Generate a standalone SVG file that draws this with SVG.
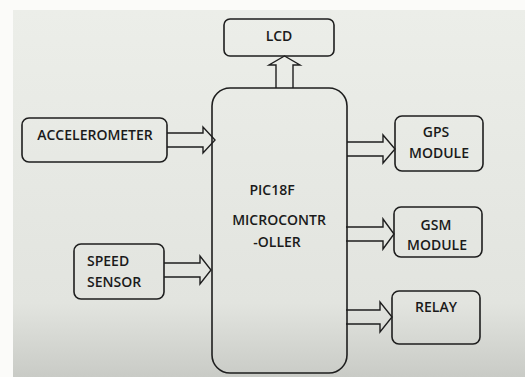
<svg xmlns="http://www.w3.org/2000/svg" width="525" height="377" viewBox="0 0 525 377">
<defs>
<linearGradient id="bg" x1="0" y1="0" x2="0" y2="1">
<stop offset="0" stop-color="#eceee9"/>
<stop offset="0.8" stop-color="#e2e4df"/>
<stop offset="1" stop-color="#c9cbc6"/>
</linearGradient>
<style>
.box{fill:none;stroke:#1e1e1e;stroke-width:1.6}
.arr{fill:none;stroke:#1e1e1e;stroke-width:1.4;stroke-linejoin:miter}
text{font-family:"Open Sans","Liberation Sans",sans-serif;font-weight:600;font-size:14px;fill:#1a1a1a}
.c{text-anchor:middle}
</style>
</defs>
<rect width="525" height="377" fill="#fbfbf9"/>
<rect x="13" y="10" width="512" height="367" fill="url(#bg)"/>
<g id="connectors">
<path class="arr" d="M276,88 V65 H269 L284.5,56 L300,65 H293 V88"/>
<path class="arr" d="M167,133 H203 V127 L215,140 L203,153 V147 H167"/>
<path class="arr" d="M164,263 H200 V256 L211,270 L200,284 V277 H164"/>
<path class="arr" d="M347,142 H383 V135 L395,149 L383,163 V156 H347"/>
<path class="arr" d="M346,227 H383 V219 L394,234 L383,249 V241 H346"/>
<path class="arr" d="M346,310 H380 V302 L392,317 L380,332 V324 H346"/>
</g>
<g id="lcd">
<rect class="box" x="224" y="19" width="110" height="37" rx="6"/>
<text class="c" x="279" y="41">LCD</text>
</g>
<g id="mcu">
<rect class="box" x="212" y="88" width="135" height="285" rx="18"/>
<text class="c" x="272" y="195">PIC18F</text>
<text class="c" x="279" y="225">MICROCONTR</text>
<text class="c" x="277" y="247">-OLLER</text>
</g>
<g id="accelerometer">
<rect class="box" x="22" y="118" width="145" height="44" rx="7"/>
<text class="c" x="95" y="140">ACCELEROMETER</text>
</g>
<g id="speed">
<rect class="box" x="74" y="244" width="90" height="55" rx="7"/>
<text x="87" y="266">SPEED</text>
<text x="87" y="287">SENSOR</text>
</g>
<g id="gps">
<rect class="box" x="395" y="116" width="88" height="55" rx="7"/>
<text class="c" x="436" y="137">GPS</text>
<text class="c" x="439" y="158">MODULE</text>
</g>
<g id="gsm">
<rect class="box" x="394" y="207" width="88" height="50" rx="7"/>
<text class="c" x="436" y="230">GSM</text>
<text class="c" x="437" y="250">MODULE</text>
</g>
<g id="relay">
<rect class="box" x="392" y="291" width="88" height="53" rx="7"/>
<text class="c" x="436" y="312">RELAY</text>
</g>
</svg>
